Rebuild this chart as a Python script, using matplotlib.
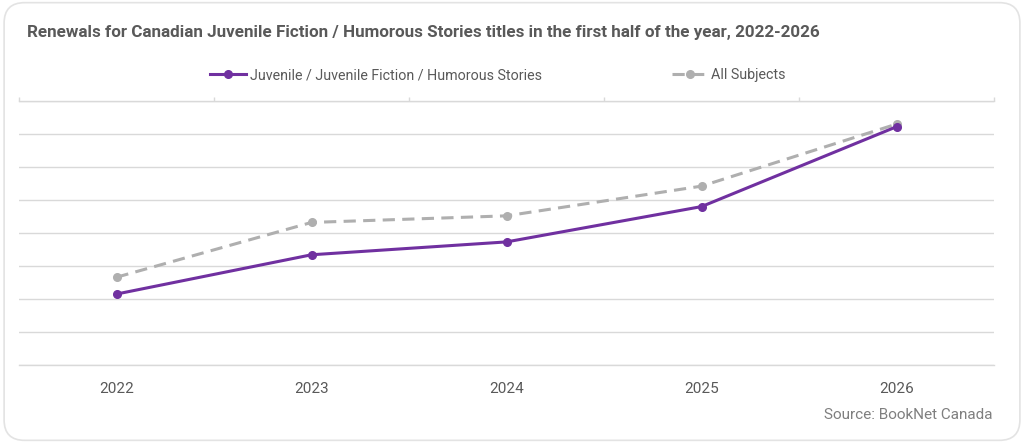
import matplotlib.pyplot as plt
from matplotlib.patches import FancyBboxPatch
from matplotlib.lines import Line2D

plt.rcParams['font.family'] = ['Roboto', 'DejaVu Sans']

# Data (in gridline units; the chart has no y labels)
years = ['2022', '2023', '2024', '2025', '2026']
juvenile = [2.15, 3.34, 3.73, 4.80, 7.22]
all_subjects = [2.66, 4.32, 4.52, 5.42, 7.30]

purple = '#7030A0'
grey = '#AFAFAF'
text_col = '#595959'

fig = plt.figure(figsize=(10.24, 4.43), dpi=100)

# rounded card border, behind everything
card = FancyBboxPatch((0.004, 0.006), 0.992, 0.988, boxstyle='round,pad=0,rounding_size=0.02',
                      transform=fig.transFigure, facecolor='white', edgecolor='#E3E3E3',
                      linewidth=1.2, mutation_aspect=1024 / 443, zorder=-10)
fig.patches.append(card)

ax = fig.add_axes([19 / 1024, 1 - 365 / 443, 975 / 1024, 264 / 443])
ax.set_facecolor('none')

x = list(range(len(years)))
ax.plot(x, all_subjects, color=grey, linewidth=2.2, dashes=(4, 2.4),
        marker='o', markersize=5.5, label='All Subjects', zorder=3)
ax.plot(x, juvenile, color=purple, linewidth=2.2,
        marker='o', markersize=5.5, label='Juvenile / Juvenile Fiction / Humorous Stories', zorder=4)

ax.set_xlim(-0.5, len(years) - 0.5)
ax.set_ylim(0, 8)
ax.set_yticks(range(0, 9))
ax.set_yticklabels([])
ax.grid(axis='y', color='#D9D9D9', linewidth=1)
ax.set_axisbelow(True)
ax.tick_params(axis='y', length=0)

ax.set_xticks(x)
ax.set_xticklabels(years, fontsize=11, color=text_col)
ax.tick_params(axis='x', length=0, pad=12)

for s in ['left', 'right']:
    ax.spines[s].set_visible(False)
for s in ['top', 'bottom']:
    ax.spines[s].set_color('#D9D9D9')
    ax.spines[s].set_linewidth(1)

# small category boundary ticks on the top line
top = ax.secondary_xaxis('top')
top.set_xticks([i - 0.5 for i in range(len(years) + 1)])
top.set_xticklabels([])
top.tick_params(length=3, color='#D9D9D9', width=1, direction='out')
top.spines['top'].set_visible(False)

fig.text(27 / 1024, 1 - 32 / 443, 'Renewals for Canadian Juvenile Fiction / Humorous Stories titles in the first half of the year, 2022-2026',
         fontsize=12.27, fontweight='bold', color=text_col, ha='left', va='center')

handles = [
    Line2D([], [], color=purple, linewidth=2.2, marker='o', markersize=5.5),
    Line2D([], [], color=grey, linewidth=2.2, dashes=(4, 2.4), marker='o', markersize=5.5),
]
fig.legend(handles, ['Juvenile / Juvenile Fiction / Humorous Stories', 'All Subjects'],
           loc='center', bbox_to_anchor=(498 / 1024, 1 - 75 / 443), ncol=2, frameon=False,
           fontsize=10.3, labelcolor=text_col, handlelength=2.5, handletextpad=0.25,
           columnspacing=9.1)

fig.text(993 / 1024, 1 - 415 / 443, 'Source: BookNet Canada', fontsize=11, color='#7F7F7F',
         ha='right', va='center')

fig.savefig('out.png', dpi=100)
